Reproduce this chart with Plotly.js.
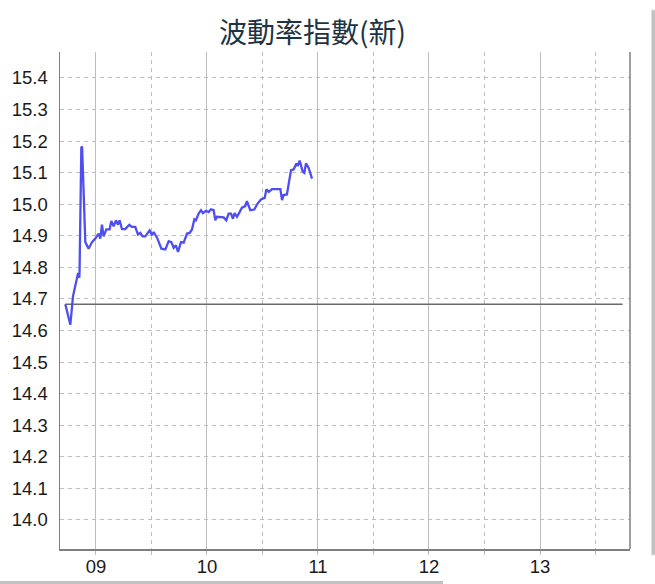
<!DOCTYPE html>
<html>
<head>
<meta charset="utf-8">
<script src="https://cdn.plot.ly/plotly-3.0.1.min.js"></script>
<style>
html,body{margin:0;padding:0;background:#fff;}
#chart{width:655px;height:584px;}
</style>
</head>
<body>
<div id="chart"></div>
<script>
// Data (times as HH:MM:SS on the trading day, values = index level)
const DAY = '2024-01-02';
const times = [
 '08:43:26','08:46:08','08:47:35','08:49:44','08:50:20','08:51:00','08:51:08','08:52:05','08:52:30',
 '08:54:14','08:56:02','08:57:50','08:59:38','09:01:26','09:02:20','09:03:14','09:04:08',
 '09:05:35','09:07:23','09:08:17','09:09:32','09:10:48','09:11:53','09:12:47','09:14:02',
 '09:15:50','09:18:00','09:19:26','09:21:14','09:22:41','09:23:56','09:25:12','09:26:38',
 '09:28:59','09:30:18','09:31:12','09:33:00','09:35:20','09:37:30','09:39:18','09:40:44',
 '09:42:00','09:43:12','09:44:20','09:45:58','09:47:24','09:49:12','09:50:38','09:51:54',
 '09:53:10','09:54:00','09:55:30','09:56:46','09:57:50','09:59:28','10:00:54','10:02:10',
 '10:03:36','10:04:30','10:05:24','10:07:12','10:09:00','10:10:26','10:11:42','10:12:58',
 '10:14:02','10:14:56','10:16:12','10:17:38','10:18:54','10:20:42','10:21:36','10:23:24',
 '10:25:34','10:27:22','10:29:10','10:31:12','10:32:06','10:33:22','10:35:10','10:39:40',
 '10:40:34','10:41:24','10:43:12','10:45:25','10:46:52','10:48:18','10:49:01','10:50:06',
 '10:51:43','10:52:37','10:53:31','10:54:58','10:56:46'
];
const values = [
 14.683,14.618,14.709,14.769,14.782,14.767,14.790,15.182,15.180,
 14.880,14.859,14.880,14.891,14.907,14.891,14.935,14.898,
 14.920,14.920,14.947,14.930,14.949,14.935,14.949,14.921,
 14.921,14.935,14.928,14.928,14.904,14.909,14.898,14.898,
 14.917,14.902,14.912,14.894,14.859,14.857,14.883,14.880,
 14.862,14.870,14.849,14.880,14.878,14.907,14.909,14.920,
 14.952,14.949,14.970,14.981,14.972,14.979,14.975,14.984,
 14.981,14.949,14.960,14.958,14.958,14.949,14.970,14.970,
 14.954,14.972,14.960,14.975,14.989,14.994,15.010,14.981,
 14.983,15.002,15.015,15.020,15.047,15.039,15.048,15.048,
 15.013,15.029,15.031,15.108,15.110,15.129,15.121,15.138,
 15.103,15.099,15.129,15.115,15.081
];
const refValue = 14.683;
const refStart = '08:43:26';
const refEnd = '13:44:40';
const axisStart = '08:40:33';
const axisEnd = '13:48:39';
const yTicks = [14.0,14.1,14.2,14.3,14.4,14.5,14.6,14.7,14.8,14.9,15.0,15.1,15.2,15.3,15.4];
const yTickText = ['14.0','14.1','14.2','14.3','14.4','14.5','14.6','14.7','14.8','14.9','15.0','15.1','15.2','15.3','15.4'];
const titleText = '波動率指數(新)';

const ts = t => DAY + ' ' + t;

const traces = [
  {
    x: [ts(refStart), ts(refEnd)],
    y: [refValue, refValue],
    mode: 'lines',
    line: {color: '#6a6a6a', width: 1.6},
    hoverinfo: 'skip',
    showlegend: false
  },
  {
    x: times.map(ts),
    y: values,
    mode: 'lines',
    line: {color: '#4f4ff0', width: 2.3},
    showlegend: false
  }
];

const tickFont = {family: 'Arial, "Liberation Sans", sans-serif', size: 18.5, color: '#1a1a1a'};

const layout = {
  width: 655,
  height: 584,
  paper_bgcolor: '#ffffff',
  plot_bgcolor: '#ffffff',
  margin: {l: 60, r: 25, t: 52, b: 35, pad: 0},
  title: {
    text: titleText,
    font: {family: '"Noto Sans CJK TC", "Noto Sans", sans-serif', size: 28, color: '#1c3444'},
    x: 0.477, xanchor: 'center', xref: 'container',
    y: 0.943, yanchor: 'middle', yref: 'container'
  },
  xaxis: {
    type: 'date',
    range: [ts(axisStart), ts(axisEnd)],
    tickformat: '%H',
    tick0: DAY + ' 09:00:00',
    dtick: 3600000,
    showgrid: true,
    gridcolor: '#bdbdbd',
    gridwidth: 1,
    minor: {
      dtick: 1800000,
      showgrid: true,
      gridcolor: '#bdbdbd',
      griddash: '4px,4px',
      gridwidth: 1,
      ticks: 'outside',
      ticklen: 4,
      tickcolor: '#bdbdbd'
    },
    ticks: 'outside',
    ticklen: 4,
    tickcolor: '#bdbdbd',
    ticklabelstandoff: -4,
    showline: true,
    linecolor: '#7f7f7f',
    linewidth: 1.5,
    mirror: false,
    zeroline: false,
    tickfont: tickFont,
    fixedrange: true
  },
  yaxis: {
    range: [13.908, 15.482],
    tickmode: 'array',
    tickvals: yTicks,
    ticktext: yTickText,
    showgrid: true,
    gridcolor: '#bdbdbd',
    griddash: '4px,4px',
    gridwidth: 1,
    showline: true,
    linecolor: '#7f7f7f',
    linewidth: 1.5,
    zeroline: false,
    ticks: '',
    ticklabelstandoff: 7,
    tickfont: tickFont,
    fixedrange: true
  },
  shapes: [
    {type: 'line', xref: 'paper', yref: 'paper', x0: 1, x1: 1, y0: 0, y1: 1,
     line: {color: '#7f7f7f', width: 1.5}},
    // window scrollbar artifacts visible in the reference screenshot
    {type: 'rect', xref: 'paper', yref: 'paper', x0: 1.0377, x1: 1.047, y0: -0.0121, y1: 1.0845,
     fillcolor: '#c2c2c2', line: {color: '#dcdcdc', width: 1}},
    {type: 'rect', xref: 'paper', yref: 'paper', x0: -0.11, x1: 0.672, y0: -0.075, y1: -0.0644,
     fillcolor: '#c2c2c2', line: {width: 0}}
  ]
};

Plotly.newPlot('chart', traces, layout, {displayModeBar: false, staticPlot: true});
</script>
</body>
</html>
